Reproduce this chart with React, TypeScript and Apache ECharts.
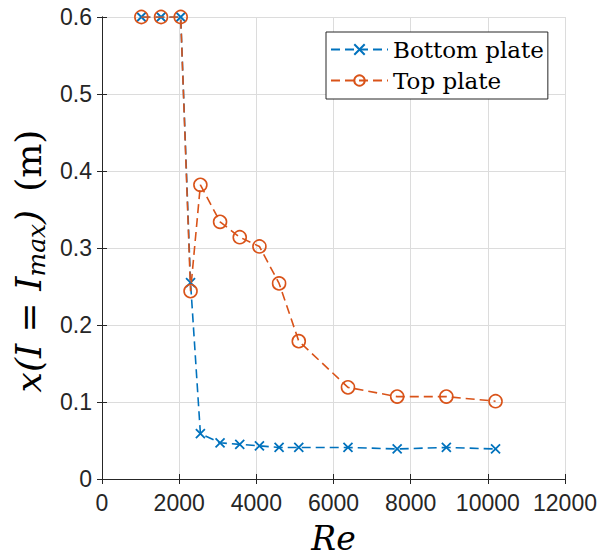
import React, { useEffect, useRef } from "react";
import * as echarts from "echarts";

const reynolds = [1020, 1530, 2040, 2295, 2550, 3060, 3570, 4080, 4590, 5100, 6375, 7650, 8925, 10200];
const bottomPlate = [0.6, 0.6, 0.6, 0.255, 0.059, 0.047, 0.045, 0.043, 0.041, 0.041, 0.041, 0.039, 0.041, 0.039];
const topPlate = [0.6, 0.6, 0.6, 0.244, 0.382, 0.334, 0.314, 0.302, 0.254, 0.179, 0.119, 0.107, 0.107, 0.101];
const seriesNames = ["Bottom plate", "Top plate"];
const xRange = { min: 0, max: 12000, interval: 2000 };
const yRange = { min: 0, max: 0.6, interval: 0.1 };

const BLUE = "#0072BD";
const ORANGE = "#D95319";
const AXIS = "#262626";
const SANS = "Liberation Sans, Arial, sans-serif";
const SERIF = "DejaVu Serif, serif";

const xMarker = "path://M0,0L10,10M10,0L0,10";

export default function App() {
  const ref = useRef<HTMLDivElement>(null);
  useEffect(() => {
    if (!ref.current) return;
    const chart = echarts.init(ref.current, null, { renderer: "svg" });
    const pairs = (ys: number[]) => reynolds.map((x, i) => [x, ys[i]]);
    const axisCommon = {
      axisLine: { show: true, lineStyle: { color: AXIS, width: 1 } },
      axisTick: { show: true, inside: true, length: 5, lineStyle: { color: AXIS } },
    };
    chart.setOption({
      animation: false,
      backgroundColor: "#ffffff",
      grid: { left: 102, right: 35, top: 17, bottom: 79, containLabel: false, outerBoundsMode: "none" },
      legend: {
        orient: "vertical",
        left: 326,
        top: 32,
        padding: [6, 4, 7, 4],
        itemGap: 8,
        itemWidth: 57,
        itemHeight: 13,
        backgroundColor: "#ffffff",
        borderColor: "#262626",
        borderWidth: 1,
        borderRadius: 0,
        textStyle: { fontFamily: SERIF, fontSize: 23, color: "#000000" },
        data: seriesNames,
      },
      xAxis: [
        {
          type: "value",
          ...xRange,
          ...axisCommon,
          splitLine: { show: true, lineStyle: { color: "#dcdcdc", width: 1 } },
          axisLabel: {
            fontFamily: SANS,
            fontSize: 23,
            color: AXIS,
            margin: 12,
            formatter: (v: number) => String(v),
          },
          name: "Re",
          nameLocation: "middle",
          nameGap: 42,
          nameTextStyle: { fontFamily: SERIF, fontStyle: "italic", fontSize: 33, lineHeight: 34, color: "#000000" },
        },
        {
          type: "value",
          position: "top",
          ...xRange,
          ...axisCommon,
          splitLine: { show: false },
          axisLabel: { show: false },
        },
      ],
      yAxis: [
        {
          type: "value",
          ...yRange,
          ...axisCommon,
          splitLine: { show: true, lineStyle: { color: "#dcdcdc", width: 1 } },
          axisLabel: { fontFamily: SANS, fontSize: 23, color: AXIS, margin: 10 },
          name: "{i|x(I = I}{s|max}{i|)\u2002}{r|(m)}",
          nameLocation: "middle",
          nameRotate: 90,
          nameGap: 50,
          nameTextStyle: {
            color: "#000000",
            padding: [0, 26, 0, 0],
            rich: {
              i: { fontFamily: SERIF, fontStyle: "italic", fontSize: 36, lineHeight: 42, color: "#000000" },
              s: { fontFamily: SERIF, fontStyle: "italic", fontSize: 25, lineHeight: 20, verticalAlign: "bottom", color: "#000000" },
              r: { fontFamily: SERIF, fontSize: 36, lineHeight: 42, color: "#000000" },
            },
          },
        },
        {
          type: "value",
          position: "right",
          ...yRange,
          ...axisCommon,
          splitLine: { show: false },
          axisLabel: { show: false },
        },
      ],
      series: [
        {
          name: seriesNames[0],
          type: "line",
          data: pairs(bottomPlate),
          symbol: xMarker,
          symbolSize: 9,
          showAllSymbol: true,
          lineStyle: { color: BLUE, width: 1.6, type: [9, 5] },
          itemStyle: { color: BLUE, borderColor: BLUE, borderWidth: 1.8 },
          z: 2,
        },
        {
          name: seriesNames[1],
          type: "line",
          data: pairs(topPlate),
          symbol: "circle",
          symbolSize: 13,
          showAllSymbol: true,
          lineStyle: { color: ORANGE, width: 1.6, type: [9, 5] },
          itemStyle: { color: "rgba(0,0,0,0)", borderColor: ORANGE, borderWidth: 1.6 },
          z: 3,
        },
      ],
    });
    return () => chart.dispose();
  }, []);
  return <div ref={ref} style={{ position: "fixed", left: 0, top: 0, width: 600, height: 558 }} />;
}
